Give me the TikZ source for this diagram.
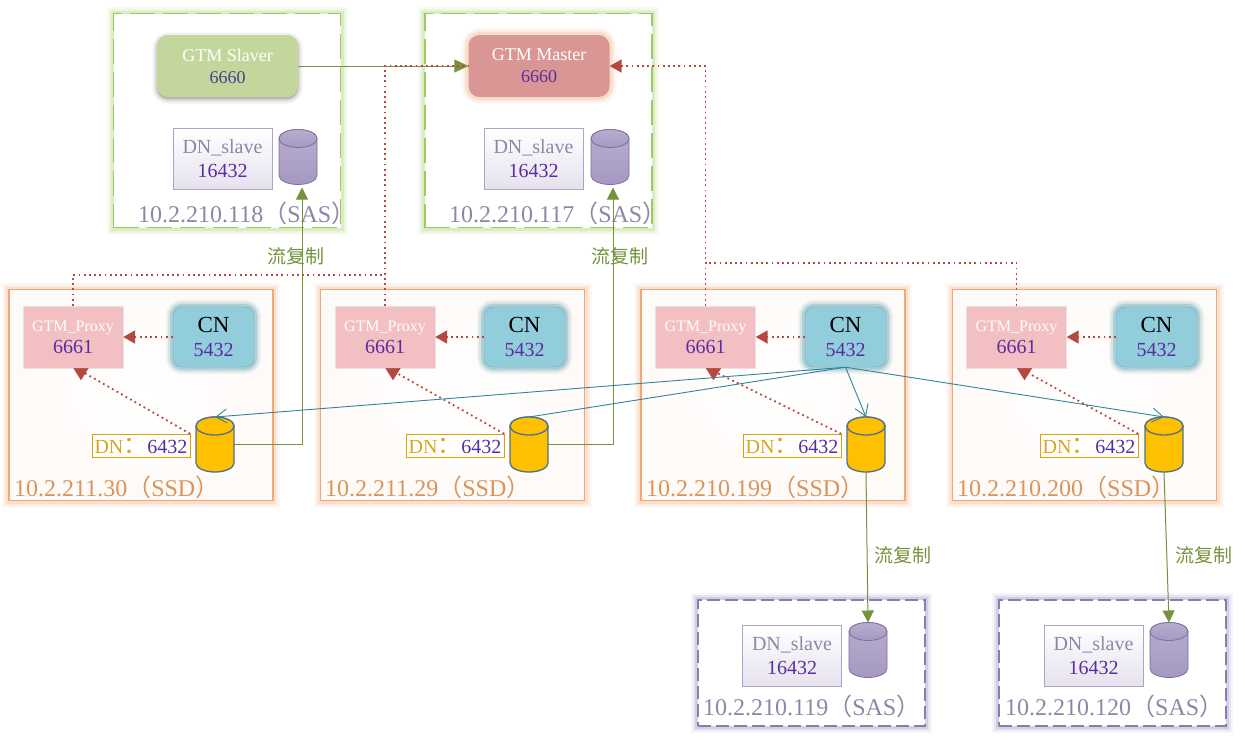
\documentclass[tikz,border=0pt]{standalone}
\usepackage{fontspec}
\setmainfont{Liberation Serif}
\newfontfamily\cjk{Noto Sans CJK SC}
\definecolor{HostGreen}{HTML}{9BCB5F}
\definecolor{HostOrange}{HTML}{F0A878}
\definecolor{HostPurple}{HTML}{8C7BB0}
\definecolor{SlaverFill}{HTML}{C3D69B}
\definecolor{MasterFill}{HTML}{D99694}
\definecolor{ProxyFill}{HTML}{F2BFC3}
\definecolor{CnFill}{HTML}{92CDDC}
\definecolor{DnGold}{HTML}{FFC000}
\definecolor{DnLabel}{HTML}{D9A520}
\definecolor{PortPurple}{HTML}{5B2C9F}
\definecolor{SlaverPort}{HTML}{4B3F8F}
\definecolor{SasText}{HTML}{8F86A8}
\definecolor{SsdText}{HTML}{D8955C}
\definecolor{GreenLine}{HTML}{76923C}
\definecolor{RedLine}{HTML}{B5493F}
\definecolor{BlueLine}{HTML}{31859C}
\definecolor{CanEdge}{HTML}{4F7286}
\usepackage{tikz}
\usetikzlibrary{shapes.geometric, arrows.meta, positioning, fit, calc, backgrounds}
\tikzset{
  glow/.style={preaction={draw=#1, solid, draw opacity=.08, line width=14pt},
    preaction={draw=#1, solid, draw opacity=.13, line width=10pt},
    preaction={draw=#1, solid, draw opacity=.22, line width=6pt}},
  hostgreen/.style={draw=HostGreen, line width=1.5pt, dash pattern=on 25pt off 8pt, fill=white, glow=HostGreen, minimum width=227pt, minimum height=214pt},
  hostorange/.style={draw=HostOrange, line width=1.5pt, fill=white, glow=HostOrange, minimum width=264pt, minimum height=211pt, path picture={\shade[inner color=white, outer color=HostOrange!6] (path picture bounding box.south west) rectangle (path picture bounding box.north east);}},
  hostpurple/.style={draw=HostPurple, line width=1.2pt, dash pattern=on 13pt off 5pt, fill=white, glow=HostPurple, minimum width=227pt, minimum height=126pt},
  gtmbox/.style={rounded corners=11pt, minimum width=141pt, minimum height=62pt, align=center, font=\fontsize{18}{21}\selectfont, text=white},
  softshadow/.style={preaction={draw=black, fill=black, draw opacity=.06, fill opacity=.06, line width=9pt, transform canvas={yshift=-2pt}},
    preaction={draw=black, fill=black, draw opacity=.1, fill opacity=.1, line width=4pt, transform canvas={yshift=-2pt}}},
  proxybox/.style={fill=ProxyFill, draw=black!10, minimum width=100pt, minimum height=62pt, align=center, font=\fontsize{20}{22}\selectfont},
  cnbox/.style={fill=CnFill, draw=BlueLine!70, rounded corners=9pt, glow=BlueLine, minimum width=81pt, minimum height=60pt, align=center, font=\fontsize{20}{24}\selectfont},
  slavebox/.style={draw=HostPurple!70, top color=white, bottom color=HostPurple!22, minimum width=99pt, minimum height=61pt, align=center, font=\fontsize{20}{24}\selectfont, text=SasText},
  dnlabel/.style={draw=DnGold!85!black, fill=white, minimum width=98pt, minimum height=23pt, inner sep=0pt, font=\fontsize{20}{24}\selectfont, text=DnLabel},
  dbsize/.style={minimum width=38pt, minimum height=55pt, inner sep=0pt, outer sep=0pt},
  goldcan/.style={draw=CanEdge, line width=1.3pt, fill=DnGold},
  purplecan/.style={draw=HostPurple!90!black, line width=.8pt, top color=HostPurple!62, bottom color=HostPurple!78},
  hostlabel/.style={anchor=west, inner sep=0pt, font=\fontsize{24}{26}\selectfont},
  replabel/.style={text=GreenLine, font=\cjk\fontsize{19}{22}\selectfont},
  greenline/.style={draw=GreenLine, line width=1pt, -{Triangle[length=14pt,width=13pt]}},
  replline/.style={draw=GreenLine, line width=1pt, -{Triangle[length=12pt,width=12pt]}},
  dotline/.style={draw=RedLine, line width=1.8pt, dash pattern=on 1.8pt off 3.4pt},
  dotarrow/.style={dotline, -{Triangle[length=12pt,width=13pt,color=RedLine]}},
  tipdown/.style={draw=RedLine, line width=.5pt, -{Triangle[length=12pt,width=15pt,color=RedLine]}},
  blueline/.style={draw=BlueLine, line width=.9pt},
  bluearrow/.style={blueline, -{Straight Barb[length=11pt,width=14pt]}},
}
\newcommand{\port}[1]{\textcolor{PortPurple}{#1}}
\newcommand{\paren}[1]{{\cjk\fontsize{24}{26}\selectfont #1}}
\newcommand{\proxytext}{\textcolor{white}{\fontsize{16}{18}\selectfont GTM\_Proxy}\\\port{6661}}
\newcommand{\cntext}{{\fontsize{23}{26}\selectfont CN}\\\port{5432}}
\newcommand{\slavetext}{DN\_slave\\\port{16432}}
% name, position, look
\newcommand{\dbcan}[3]{
  \node[dbsize] (#1) at (#2) {};
  \begin{scope}[shift={(#1.center)}, x=1pt, y=1pt]
    \draw[#3] (-19,18.5) -- (-19,-18.5) arc[start angle=180, end angle=360, x radius=19pt, y radius=9pt] -- (19,18.5) arc[start angle=0, end angle=180, x radius=19pt, y radius=9pt] -- cycle;
    \draw[#3] (0,18.5) ellipse[x radius=19pt, y radius=9pt];
  \end{scope}
}
\begin{document}
\begin{tikzpicture}[x=1pt,y=-1pt]
  \useasboundingbox (0,0) rectangle (1246,740);

  % SAS hosts
  \node[hostgreen] (host118) at (227,120.5) {};
  \node[hostgreen] (host117) at (538.5,120.5) {};
  \node[hostpurple] (host119) at (811.5,663) {};
  \node[hostpurple] (host120) at (1112.5,663) {};

  % SSD hosts
  \node[hostorange] (host30) at (141,395) {};
  \node[hostorange] (host29) at (452.5,395) {};
  \node[hostorange] (host199) at (773,395) {};
  \node[hostorange] (host200) at (1084.5,395) {};

  % GTM
  \node[gtmbox, fill=SlaverFill, softshadow] (slaver) at (227.5,66) {GTM Slaver\\[1pt]\textcolor{SlaverPort}{6660}};
  \node[gtmbox, fill=MasterFill, glow=HostOrange] (master) at (539,66) {GTM Master\\[1pt]\textcolor{PortPurple}{6660}};

  % DN slaves
  \node[slavebox] (slave118) at (222.5,158.5) {\slavetext};
  \dbcan{db118}{298,157}{purplecan}
  \node[slavebox] (slave117) at (533.5,158.5) {\slavetext};
  \dbcan{db117}{610,157}{purplecan}
  \node[slavebox] (slave119) at (792,655.5) {\slavetext};
  \dbcan{db119}{868,650}{purplecan}
  \node[slavebox] (slave120) at (1093.5,655.5) {\slavetext};
  \dbcan{db120}{1169,650}{purplecan}

  % proxies
  \node[proxybox] (proxy30) at (73,337) {\proxytext};
  \node[proxybox] (proxy29) at (385,337) {\proxytext};
  \node[proxybox] (proxy199) at (705.5,337) {\proxytext};
  \node[proxybox] (proxy200) at (1016.5,337) {\proxytext};

  % CN
  \node[cnbox] (cn30) at (213.5,337) {\cntext};
  \node[cnbox] (cn29) at (524.5,337) {\cntext};
  \node[cnbox] (cn199) at (845.5,337) {\cntext};
  \node[cnbox] (cn200) at (1156.5,337) {\cntext};

  % DN
  \node[dnlabel] (label30) at (141,445.5) {DN\paren{：}\port{6432}};
  \dbcan{dn30}{215,444.5}{goldcan}
  \node[dnlabel] (label29) at (455,445.5) {DN\paren{：}\port{6432}};
  \dbcan{dn29}{529,444.5}{goldcan}
  \node[dnlabel] (label199) at (792,445.5) {DN\paren{：}\port{6432}};
  \dbcan{dn199}{866,444.5}{goldcan}
  \node[dnlabel] (label200) at (1089,445.5) {DN\paren{：}\port{6432}};
  \dbcan{dn200}{1164,444.5}{goldcan}

  % host labels
  \node[hostlabel, text=SasText] (ip118) at (138,213) {10.2.210.118\paren{（}SAS\paren{）}};
  \node[hostlabel, text=SasText] (ip117) at (449,213) {10.2.210.117\paren{（}SAS\paren{）}};
  \node[hostlabel, text=SasText] (ip119) at (703,706) {10.2.210.119\paren{（}SAS\paren{）}};
  \node[hostlabel, text=SasText] (ip120) at (1005,706) {10.2.210.120\paren{（}SAS\paren{）}};
  \node[hostlabel, text=SsdText] (ip30) at (14,487) {10.2.211.30\paren{（}SSD\paren{）}};
  \node[hostlabel, text=SsdText] (ip29) at (325,487) {10.2.211.29\paren{（}SSD\paren{）}};
  \node[hostlabel, text=SsdText] (ip199) at (646,487) {10.2.210.199\paren{（}SSD\paren{）}};
  \node[hostlabel, text=SsdText] (ip200) at (957,487) {10.2.210.200\paren{（}SSD\paren{）}};

  % GTM links
  \draw[greenline] (slaver.east) -- (master.west);
  \draw[dotline] (proxy30.north) |- (proxy29.north |- 0,275);
  \draw[dotline] (proxy29.north) |- (master.west);
  \draw[dotarrow] (proxy199.north) |- (master.east);
  \draw[dotline] (proxy200.north) |- (proxy199.north |- 0,263);

  % proxy links
  \foreach \h in {30,29,199,200} {
    \draw[dotarrow] (cn\h.west) -- (proxy\h.east);
    \coordinate (tip\h) at ($(proxy\h.south)+(12,5)$);
    \draw[dotline] (label\h.north east) -- (tip\h);
    \draw[tipdown] ($(proxy\h.south)+(8,0)$) -- ($(proxy\h.south)+(8,12)$);
  }

  % streaming replication
  \draw[replline] (dn30.east) -| ($(db118.south)+(4,3)$);
  \draw[replline] (dn29.east) -| ($(db117.south)+(3,3)$);
  \draw[replline] (dn199.south) -- (db119.north);
  \draw[replline] (dn200.south) -- (db120.north);
  \node[replabel] (rep118) at (296,256) {流复制};
  \node[replabel] (rep117) at (620,256) {流复制};
  \node[replabel] (rep119) at (903,555) {流复制};
  \node[replabel] (rep120) at (1204,555) {流复制};

  % CN to DN
  \draw[bluearrow] (cn199.south) -- (dn30.north);
  \draw[blueline] (cn199.south) -- (dn29.north);
  \draw[bluearrow] (cn199.south) -- (dn199.north);
  \draw[bluearrow] (cn199.south) -- (dn200.north);
\end{tikzpicture}
\end{document}
